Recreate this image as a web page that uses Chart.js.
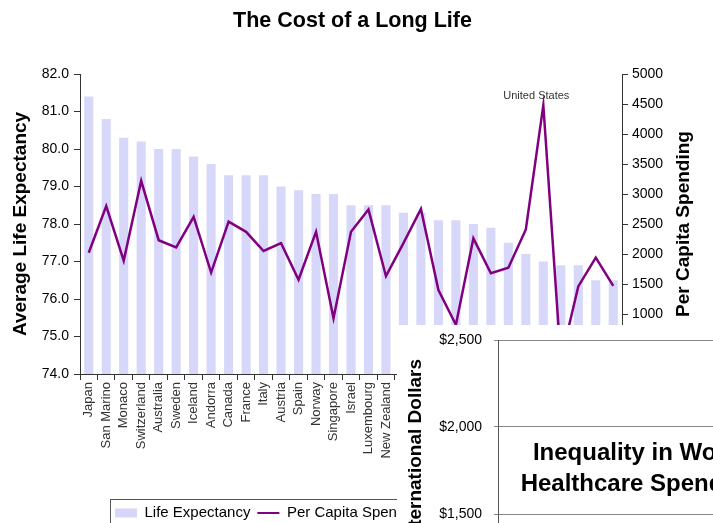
<!DOCTYPE html>
<html>
<head>
<meta charset="utf-8">
<title>The Cost of a Long Life</title>
<script src="https://cdn.jsdelivr.net/npm/chart.js@4.4.1/dist/chart.umd.min.js"></script>
<style>
  html, body { margin: 0; padding: 0; background: #fff; }
  body { width: 713px; height: 523px; overflow: hidden; position: relative; }
  #mainChart { position: absolute; left: 0; top: 0; }
  #inset { position: absolute; left: 397px; top: 325px; background: #fff; }
</style>
</head>
<body>
<canvas id="mainChart" width="713" height="523"></canvas>
<canvas id="inset" width="420" height="470"></canvas>
<script>
// countries sorted by life expectancy (the last ones sit under the inset chart)
const countries = [
  'Japan', 'San Marino', 'Monaco', 'Switzerland', 'Australia', 'Sweden', 'Iceland',
  'Andorra', 'Canada', 'France', 'Italy', 'Austria', 'Spain', 'Norway', 'Singapore',
  'Israel', 'Luxembourg', 'New Zealand', 'Netherlands', 'Germany', 'Greece', 'Malta',
  'Belgium', 'Finland', 'United Kingdom', 'Denmark', 'United States', 'Cuba',
  'Portugal', 'Ireland', 'Slovenia'
];
const lifeExpectancy = [
  81.4, 80.8, 80.3, 80.2, 80.0, 80.0, 79.8, 79.6, 79.3, 79.3, 79.3, 79.0, 78.9, 78.8, 78.8,
  78.5, 78.5, 78.5, 78.3, 78.3, 78.1, 78.1, 78.0, 77.9, 77.5, 77.2, 77.0, 76.9, 76.9, 76.5, 76.5
];
const perCapitaSpending = [
  2020, 2800, 1890, 3220, 2230, 2110, 2620, 1690, 2540, 2370, 2050, 2180, 1570, 2370, 930,
  2370, 2740, 1630, 2180, 2750, 1400, 820, 2260, 1680, 1770, 2410, 4480, 230, 1460, 1940, 1470
];
const labelledCountry = 'United States';

// second chart pasted over the bottom right corner
const insetTicks = [0, 500, 1000, 1500, 2000, 2500];
const insetTitleLines = ['Inequality in World', 'Healthcare Spending'];

Chart.defaults.font.family = '"Liberation Sans", Arial, sans-serif';
Chart.defaults.color = '#000';

// border round the legend, legend moved where Excel put it
const legendBox = {
  id: 'legendBox',
  afterLayout(chart) {
    const lg = chart.legend;
    lg.left = 108;
    lg.top = 498.5;
    chart.titleBlock.left -= 4;
    chart.titleBlock.right -= 4;
  },
  afterDraw(chart) {
    const lg = chart.legend;
    const ctx = chart.ctx;
    ctx.save();
    ctx.strokeStyle = '#555';
    ctx.lineWidth = 1;
    ctx.strokeRect(110.5, 499.5, lg.lineWidths[0] + 6, 32);
    ctx.restore();
  }
};

// "United States" above its point
const peakLabel = {
  id: 'peakLabel',
  afterDatasetsDraw(chart) {
    const i = countries.indexOf(labelledCountry);
    const pt = chart.getDatasetMeta(1).data[i];
    if (!pt) return;
    const ctx = chart.ctx;
    ctx.save();
    ctx.font = '11px "Liberation Sans", Arial, sans-serif';
    ctx.fillStyle = '#333';
    ctx.textAlign = 'center';
    ctx.textBaseline = 'bottom';
    ctx.fillText(labelledCountry, pt.x - 7, pt.y - 4);
    ctx.restore();
  }
};

// right axis title reads bottom to top, Chart.js turns it the other way
const rightTitle = {
  id: 'rightTitle',
  afterDraw(chart) {
    const s = chart.scales.y1;
    const ctx = chart.ctx;
    ctx.save();
    ctx.translate(s.right - 29, (s.top + s.bottom) / 2);
    ctx.rotate(-Math.PI / 2);
    ctx.font = 'bold 19px "Liberation Sans", Arial, sans-serif';
    ctx.fillStyle = '#000';
    ctx.textAlign = 'center';
    ctx.textBaseline = 'middle';
    ctx.fillText('Per Capita Spending', 0, 0);
    ctx.restore();
  }
};

new Chart(document.getElementById('mainChart'), {
  type: 'bar',
  data: {
    labels: countries,
    datasets: [
      {
        type: 'bar',
        label: 'Life Expectancy',
        data: lifeExpectancy,
        backgroundColor: '#d7d7fa',
        barPercentage: 0.52,
        categoryPercentage: 1,
        yAxisID: 'y',
        order: 2
      },
      {
        type: 'line',
        label: 'Per Capita Spending',
        data: perCapitaSpending,
        borderColor: '#800080',
        backgroundColor: '#800080',
        borderWidth: 2.5,
        pointRadius: 0,
        tension: 0,
        yAxisID: 'y1',
        order: 1
      }
    ]
  },
  options: {
    responsive: false,
    animation: false,
    layout: { padding: 0 },
    plugins: {
      title: {
        display: true,
        text: 'The Cost of a Long Life',
        color: '#000',
        font: { size: 21.5, weight: 'bold' },
        padding: { top: 8, bottom: 40.2 }
      },
      legend: {
        position: 'bottom',
        align: 'start',
        labels: {
          usePointStyle: true,
          pointStyleWidth: 22,
          boxHeight: 9,
          padding: 7,
          color: '#000',
          font: { size: 15 },
          sort: (a, b) => a.datasetIndex - b.datasetIndex,
          generateLabels(chart) {
            const items = Chart.defaults.plugins.legend.labels.generateLabels(chart);
            items.forEach(it => {
              if (it.datasetIndex === 0) {
                it.pointStyle = 'rect';
                it.lineWidth = 0;
              } else {
                it.pointStyle = 'line';
                it.lineWidth = 2;
                it.strokeStyle = '#800080';
              }
            });
            return items;
          }
        }
      },
      tooltip: { enabled: false }
    },
    scales: {
      x: {
        offset: true,
        grid: { offset: true, drawOnChartArea: false, tickLength: 6, color: '#333' },
        border: { color: '#333' },
        ticks: { autoSkip: false, minRotation: 90, maxRotation: 90, padding: 2, color: '#333', font: { size: 13 } },
        afterFit: s => { s.height = s.chart.height - 374 - s.chart.legend.height; }
      },
      y: {
        position: 'left',
        min: 74,
        max: 82,
        ticks: { stepSize: 1, padding: 5, font: { size: 14 }, callback: v => v.toFixed(1) },
        grid: { drawOnChartArea: false, tickLength: 6, color: '#333' },
        border: { color: '#333' },
        title: {
          display: true,
          text: 'Average Life Expectancy',
          color: '#000',
          font: { size: 19, weight: 'bold' },
          padding: { top: 9, bottom: 0 }
        },
        afterFit: s => { s.width = 80; }
      },
      y1: {
        position: 'right',
        min: 0,
        max: 5000,
        ticks: { stepSize: 500, padding: 4, font: { size: 14 }, callback: v => String(v) },
        grid: { drawOnChartArea: false, tickLength: 6, color: '#333' },
        border: { color: '#333' },
        afterFit: s => { s.width = 91; }
      }
    }
  },
  plugins: [legendBox, peakLabel, rightTitle]
});

// title written inside the plot area of the inset chart
const insetTitle = {
  id: 'insetTitle',
  afterDraw(chart) {
    const ctx = chart.ctx;
    ctx.save();
    ctx.font = 'bold 24px "Liberation Sans", Arial, sans-serif';
    ctx.fillStyle = '#000';
    ctx.textAlign = 'center';
    ctx.textBaseline = 'alphabetic';
    ctx.fillText(insetTitleLines[0], 243, 135);
    ctx.fillText(insetTitleLines[1], 243, 166);
    ctx.restore();
  }
};

new Chart(document.getElementById('inset'), {
  type: 'line',
  data: { labels: [], datasets: [] },
  options: {
    responsive: false,
    animation: false,
    layout: { padding: { top: 15, bottom: 20, left: 0, right: 0 } },
    plugins: {
      legend: { display: false },
      title: { display: false },
      tooltip: { enabled: false }
    },
    scales: {
      x: { display: false },
      y: {
        min: 0,
        max: 2500,
        afterBuildTicks: s => { s.ticks = insetTicks.map(v => ({ value: v })); },
        ticks: { padding: 12, font: { size: 14 }, callback: v => '$' + v.toLocaleString('en-US') },
        grid: { color: '#888', tickLength: 4 },
        border: { color: '#555' },
        title: {
          display: true,
          text: 'Per Capita Spending in International Dollars',
          color: '#000',
          font: { size: 19, weight: 'bold' },
          padding: { top: 7, bottom: 0 }
        },
        afterFit: s => {
          s.width = 101;
          // label padding would push the plot down, the layout padding already covers it
          s.paddingTop = 0;
          s.paddingBottom = 0;
        }
      }
    }
  },
  plugins: [insetTitle]
});
</script>
</body>
</html>
